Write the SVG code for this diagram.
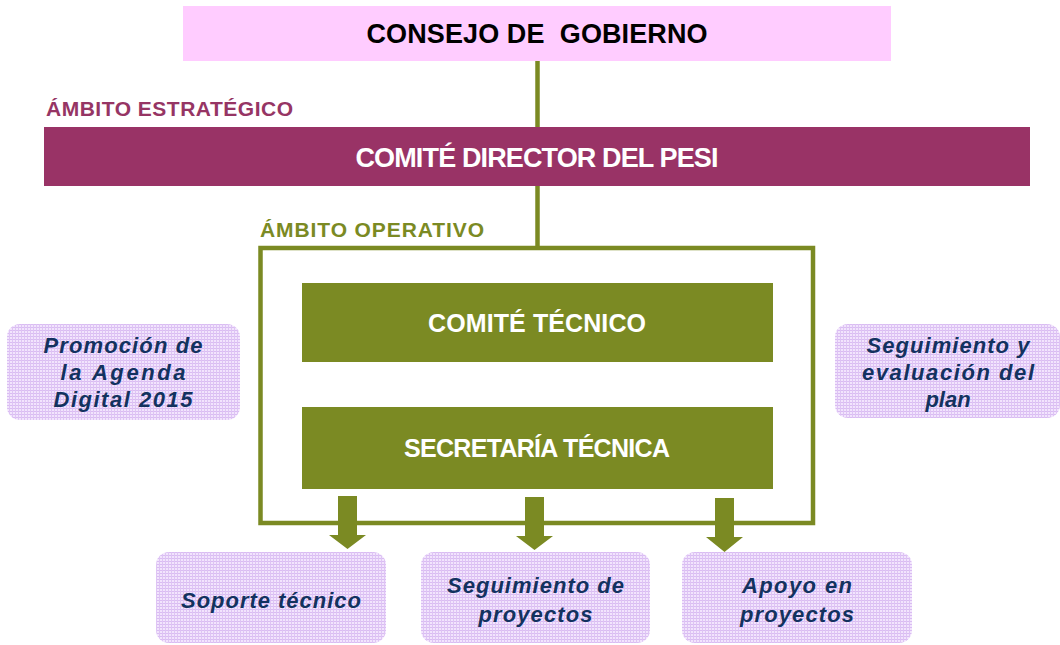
<svg xmlns="http://www.w3.org/2000/svg" width="1060" height="645" viewBox="0 0 1060 645">
<defs>
<pattern id="grid" x="0" y="0" width="3" height="3" patternUnits="userSpaceOnUse">
<rect width="3" height="3" fill="#F2E4FD"/>
<rect width="3" height="1" fill="#D9BCF2"/>
<rect width="1" height="3" fill="#DEC4F4"/>
</pattern>
<style>
.t{font-family:"Liberation Sans",Arial,sans-serif;font-weight:bold;text-anchor:middle}
.w{fill:#FFFFFF;font-size:27px}
.lbl{font-family:"Liberation Sans",Arial,sans-serif;font-weight:bold;font-size:21px}
.it{font-family:"Liberation Sans",Arial,sans-serif;font-weight:bold;font-style:italic;font-size:22px;fill:#13325F;text-anchor:middle}
.soft{fill:url(#grid)}
.olive{fill:#7B8A23}
.conn{stroke:#7B8A23;stroke-width:4.5;fill:none}
</style>
</defs>

<g id="connectors">
<line class="conn" x1="537.5" y1="61" x2="537.5" y2="127"/>
<line class="conn" x1="537.5" y1="186" x2="537.5" y2="248"/>
</g>

<g id="consejo">
<rect x="183" y="6" width="708" height="55" fill="#FFCCFF"/>
<text class="t" x="537" y="43" font-size="27" fill="#000000" textLength="341" xml:space="preserve">CONSEJO DE  GOBIERNO</text>
</g>

<g id="ambito-estrategico">
<text class="lbl" x="46" y="116" fill="#963564" textLength="247">ÁMBITO ESTRATÉGICO</text>
</g>

<g id="comite-director">
<rect x="44" y="127" width="986" height="59" fill="#993366"/>
<text class="t w" x="537" y="167" textLength="363">COMITÉ DIRECTOR DEL PESI</text>
</g>

<g id="ambito-operativo">
<text class="lbl" x="260" y="237" fill="#7B8A23" textLength="224">ÁMBITO OPERATIVO</text>
<rect x="260.5" y="248" width="552.5" height="275" fill="none" stroke="#7B8A23" stroke-width="4.5"/>
</g>

<g id="comite-tecnico">
<rect class="olive" x="302" y="283" width="471" height="79"/>
<text class="t w" x="537" y="332" style="font-size:25px" textLength="218">COMITÉ TÉCNICO</text>
</g>

<g id="secretaria-tecnica">
<rect class="olive" x="302" y="407" width="471" height="82"/>
<text class="t w" x="537" y="457" style="font-size:25px" textLength="266">SECRETARÍA TÉCNICA</text>
</g>

<g id="arrows">
<polygon class="olive" points="338,496 357,496 357,535 366,535 347.5,549 329,535 338,535"/>
<polygon class="olive" points="525,497 544,497 544,536 553,536 534.5,550 516,536 525,536"/>
<polygon class="olive" points="715,498 734,498 734,537 743,537 724.5,552 706,537 715,537"/>
</g>

<g id="promocion">
<rect class="soft" x="7" y="324" width="233" height="96" rx="13"/>
<text class="it" x="123" y="353" textLength="159">Promoción de</text>
<text class="it" x="123" y="380" textLength="125">la Agenda</text>
<text class="it" x="123" y="407" textLength="139">Digital 2015</text>
</g>

<g id="seguimiento-evaluacion">
<rect class="soft" x="835" y="324" width="225" height="94" rx="13"/>
<text class="it" x="948" y="353" textLength="163">Seguimiento y</text>
<text class="it" x="948" y="380" textLength="172">evaluación del</text>
<text class="it" x="948" y="407">plan</text>
</g>

<g id="soporte">
<rect class="soft" x="156" y="552" width="230" height="91" rx="13"/>
<text class="it" x="271" y="608" textLength="180">Soporte técnico</text>
</g>

<g id="seguimiento-proyectos">
<rect class="soft" x="421" y="552" width="229" height="91" rx="13"/>
<text class="it" x="535.5" y="593" textLength="177">Seguimiento de</text>
<text class="it" x="535.5" y="622" textLength="114">proyectos</text>
</g>

<g id="apoyo">
<rect class="soft" x="682" y="552" width="230" height="91" rx="13"/>
<text class="it" x="797" y="593" textLength="110">Apoyo en</text>
<text class="it" x="797" y="622" textLength="114">proyectos</text>
</g>
</svg>
